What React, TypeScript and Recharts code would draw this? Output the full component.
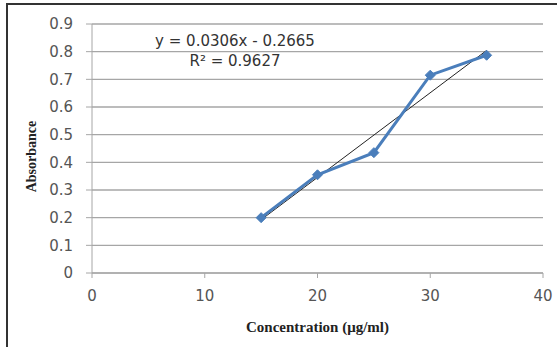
import React from "react";
import {
  LineChart,
  Line,
  XAxis,
  YAxis,
  CartesianGrid,
  ReferenceLine,
  Label,
} from "recharts";

const concentration = [15, 20, 25, 30, 35];
const absorbance = [0.2, 0.355, 0.435, 0.715, 0.787];
const xTicks = [0, 10, 20, 30, 40];
const yTicks = [0, 0.1, 0.2, 0.3, 0.4, 0.5, 0.6, 0.7, 0.8, 0.9];

// linear trendline as printed on the chart
const slope = 0.0306;
const intercept = -0.2665;
const rSquared = 0.9627;

const data = concentration.map((x, i) => ({ x, y: absorbance[i] }));
const trendStart = concentration[0];
const trendEnd = concentration[concentration.length - 1];

const tickStyle = { fontFamily: "DejaVu Sans", fontSize: 15, fill: "#555" };
const titleStyle = { fontFamily: "Liberation Serif", fontSize: 14, fontWeight: "bold", fill: "#222" };

const Diamond = (props: any) => {
  const { cx, cy } = props;
  if (cx == null || cy == null) return null;
  const r = 5;
  return (
    <path
      d={`M${cx},${cy - r} L${cx + r},${cy} L${cx},${cy + r} L${cx - r},${cy} Z`}
      fill="#4a7ebb"
      stroke="#4a7ebb"
    />
  );
};

const YLabel = (props: any) => {
  const { viewBox } = props;
  const cy = viewBox.y + viewBox.height / 2 + 8;
  return (
    <text
      x={31}
      y={cy}
      transform={`rotate(-90, 31, ${cy})`}
      textAnchor="middle"
      dominantBaseline="central"
      style={titleStyle}
    >
      Absorbance
    </text>
  );
};

export default function App() {
  return (
    <div
      style={{
        position: "absolute",
        left: 0,
        top: 0,
        width: 557,
        height: 347,
        background: "#fff",
      }}
    >
      <div
        style={{
          position: "absolute",
          left: 6,
          top: 3,
          right: 0,
          bottom: 0,
          borderTop: "2px solid #333",
          borderLeft: "2px solid #333",
        }}
      />
      <LineChart
        width={557}
        height={347}
        data={data}
        margin={{ top: 24, right: 14, left: 0, bottom: 0 }}
        style={{ position: "absolute", left: 0, top: 0 }}
      >
        <CartesianGrid vertical={false} stroke="#a6a6a6" strokeWidth={1.3} />
        <XAxis
          dataKey="x"
          type="number"
          domain={[0, 40]}
          ticks={xTicks}
          height={74}
          stroke="#a6a6a6"
          tickSize={5}
          tickMargin={12}
          tick={tickStyle}
        >
          <Label
            value="Concentration (μg/ml)"
            position="insideBottom"
            offset={15}
            style={{ ...titleStyle, fontSize: 15 }}
          />
        </XAxis>
        <YAxis
          type="number"
          domain={[0, 0.9]}
          ticks={yTicks}
          width={92}
          stroke="#a6a6a6"
          tickSize={6}
          tickMargin={13}
          tick={tickStyle}
          tickFormatter={(v: number) => (v === 0 ? "0" : v.toFixed(1))}
        >
          <Label content={<YLabel />} />
        </YAxis>
        <ReferenceLine
          segment={[
            { x: trendStart, y: slope * trendStart + intercept },
            { x: trendEnd, y: slope * trendEnd + intercept },
          ]}
          stroke="#222"
          strokeWidth={1}
          ifOverflow="visible"
        />
        <Line
          dataKey="y"
          stroke="#4a7ebb"
          strokeWidth={3}
          dot={<Diamond />}
          activeDot={false}
          isAnimationActive={false}
        />
      </LineChart>
      <div
        style={{
          position: "absolute",
          left: 135,
          width: 200,
          top: 31,
          textAlign: "center",
          fontFamily: "DejaVu Sans",
          fontSize: 15,
          lineHeight: "20px",
          color: "#333",
        }}
      >
        <div>{`y = ${slope}x - ${Math.abs(intercept)}`}</div>
        <div>R² = {rSquared}</div>
      </div>
    </div>
  );
}
